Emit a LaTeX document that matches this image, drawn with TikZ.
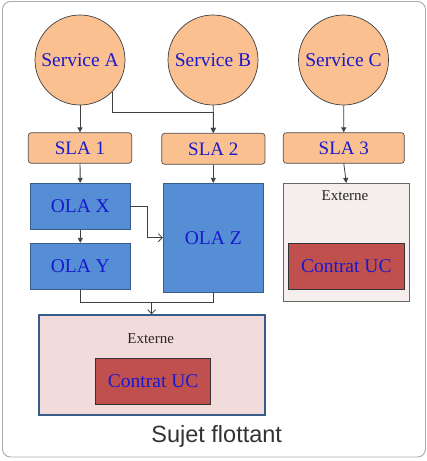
\documentclass[tikz,border=0pt]{standalone}
\usepackage{fontspec}
\setmainfont{Liberation Serif}
\newfontfamily\serifx{Liberation Serif}
\newfontfamily\sujetfont{Liberation Sans}
\usetikzlibrary{arrows.meta,calc}
\definecolor{peach}{HTML}{FAC090}
\definecolor{olablue}{HTML}{558ED5}
\definecolor{bordblue}{HTML}{385D8A}
\definecolor{ucred}{HTML}{C0504D}
\definecolor{pinkfill}{HTML}{F2DCDB}
\definecolor{palefill}{HTML}{F5EEED}
\definecolor{txtblue}{RGB}{25,25,205}
\definecolor{connc}{HTML}{404040}
\definecolor{framec}{HTML}{ABABAB}
\begin{document}
\begin{tikzpicture}[x=1pt,y=-1pt,
  svc/.style={circle,draw=black!75,line width=0.7pt,fill=peach,minimum size=90pt,inner sep=0pt,
    text=txtblue,font=\serifx\fontsize{19.5}{21}\selectfont},
  slabox/.style={rectangle,rounded corners=3pt,draw=black!70,line width=0.7pt,fill=peach,inner sep=0pt,
    text=txtblue,font=\serifx\fontsize{19}{21}\selectfont},
  olabox/.style={rectangle,draw=bordblue,line width=0.9pt,fill=olablue,inner sep=0pt,
    text=txtblue,font=\serifx\fontsize{19.5}{21}\selectfont},
  ucbox/.style={rectangle,draw=black!80,line width=0.7pt,fill=ucred,inner sep=0pt,
    text=txtblue,font=\serifx\fontsize{19.5}{21}\selectfont},
  extlabel/.style={font=\serifx\fontsize{15}{17}\selectfont,text=black!85,inner sep=0pt},
  conn/.style={draw=connc,line width=0.8pt},
  tipfull/.style={-{Triangle[length=5pt,width=5pt]}},
  tipopen/.style={-{Straight Barb[length=4pt,width=8pt]}}
]
\useasboundingbox (0,0) rectangle (427,461);
\fill[white] (0,0) rectangle (427,461);
\draw[framec,line width=0.9pt,rounded corners=8pt] (2.5,1.5) rectangle (425.5,457);

% services
\node[svc] (sa) at (80,60) {Service A};
\node[svc] (sb) at (213,60) {Service B};
\node[svc] (sc) at (343.5,60) {Service C};

% SLA
\node[slabox,minimum width=103.4pt,minimum height=30.6pt] (sla1) at (80,148) {SLA 1};
\node[slabox,minimum width=103.3pt,minimum height=31pt] (sla2) at (213.3,148.8) {SLA 2};
\node[slabox,minimum width=121pt,minimum height=30.6pt] (sla3) at (343.8,148) {SLA 3};

% OLA
\node[olabox,minimum width=100.7pt,minimum height=46pt] (olax) at (80.3,206.3) {OLA X};
\node[olabox,minimum width=100.7pt,minimum height=46pt] (olay) at (80.3,266.3) {OLA Y};
\node[olabox,minimum width=100pt,minimum height=108.7pt] (olaz) at (213.3,237.7) {OLA Z};

% right Externe
\node[rectangle,draw=black!60,line width=0.8pt,fill=palefill,minimum width=126pt,minimum height=117.7pt,inner sep=0pt] (ext2) at (346.3,242.2) {};
\node[extlabel] (ext2l) at (345,195.7) {Externe};
\node[ucbox,minimum width=116pt,minimum height=46pt] (uc2) at (346.3,266.3) {Contrat UC};

% bottom Externe
\node[rectangle,draw=bordblue,line width=1.6pt,fill=pinkfill,minimum width=226pt,minimum height=100pt,inner sep=0pt] (ext1) at (152,365) {};
\node[extlabel] (ext1l) at (150.7,338.3) {Externe};
\node[ucbox,minimum width=115pt,minimum height=45.7pt] (uc1) at (153.2,381.2) {Contrat UC};

% caption
\node[font=\sujetfont\fontsize{23.5}{26}\selectfont,text=black!80,anchor=base,inner sep=0pt] (cap) at (216.7,442.7) {Sujet flottant};

% connectors
\draw[conn,tipfull] (sa) -- (sla1);
\draw[conn,tipfull] (sb) -- (sla2);
\draw[conn,tipfull] (sc) -- (sla3);
\draw[conn,tipfull] (sa.-45) -- ++(0,20) -| (sla2.north);
\draw[conn,tipfull] (sla1) -- (olax);
\draw[conn,tipfull] (sla2) -- (olaz);
\draw[conn,tipfull] (sla3.south) -- (ext2.north);
\draw[conn,tipfull] (olax) -- (olay);
\draw[conn,tipopen] (olax.east) -- ++(16,0) |- (olaz.west);
\coordinate (m) at (151.7,302.7);
\draw[conn] (olay.south) |- (m) -| (olaz.south);
\draw[conn,tipopen] (m) -- (m |- ext1.north);
\end{tikzpicture}
\end{document}
